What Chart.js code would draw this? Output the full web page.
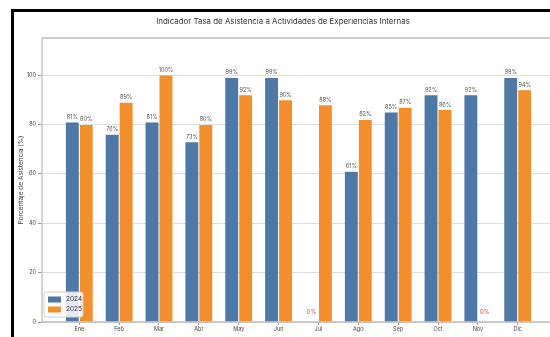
<!DOCTYPE html>
<html>
<head>
<meta charset="utf-8">
<script src="https://cdn.jsdelivr.net/npm/chart.js@4.4.1/dist/chart.umd.min.js"></script>
<style>
  html, body { margin: 0; padding: 0; background: #fff; overflow: hidden; width: 550px; height: 337px; }
  #wrap { position: absolute; left: 0; top: 0; width: 550px; height: 337px; overflow: hidden; }
  #grafico { position: absolute; left: 0; top: 0; }
  #marco { position: absolute; left: 11px; top: 9px; width: 536px; height: 325px;
           border-left: 3px solid #000; border-top: 3px solid #000; pointer-events: none; }
</style>
</head>
<body>
<div id="wrap"><canvas id="grafico" width="570" height="337"></canvas></div>
<div id="marco"></div>
<script>
const meses = ['Ene', 'Feb', 'Mar', 'Abr', 'May', 'Jun', 'Jul', 'Ago', 'Sep', 'Oct', 'Nov', 'Dic'];
const valores2024 = [81, 76, 81, 73, 99, 99, 0, 61, 85, 92, 92, 99];
const valores2025 = [80, 89, 100, 80, 92, 90, 88, 82, 87, 86, 0, 94];
const ticksY = [0, 20, 40, 60, 80, 100];

const FUENTE = 'Inter, "DejaVu Sans", sans-serif';
const AZUL = '#4E79A7';
const NARANJA = '#F28E2B';

// marco gris del área de trazado (izquierda, arriba, abajo)
const marcoPlot = {
  id: 'marcoPlot',
  beforeDatasetsDraw(chart) {
    const { ctx, chartArea: a } = chart;
    ctx.save();
    ctx.strokeStyle = '#bdbdbd';
    ctx.lineWidth = 1.3;
    ctx.beginPath();
    ctx.moveTo(a.right + 5, a.top);
    ctx.lineTo(a.left, a.top);
    ctx.lineTo(a.left, a.bottom);
    ctx.lineTo(a.right + 5, a.bottom);
    ctx.stroke();
    ctx.restore();
  }
};

// porcentajes encima de cada barra
const etiquetas = {
  id: 'etiquetas',
  afterDatasetsDraw(chart) {
    const { ctx } = chart;
    ctx.save();
    ctx.textAlign = 'center';
    chart.data.datasets.forEach((ds, i) => {
      const meta = chart.getDatasetMeta(i);
      meta.data.forEach((bar, j) => {
        const v = ds.data[j].y;
        if (v === 0) {
          ctx.fillStyle = '#e5484d';
          ctx.font = '6px ' + FUENTE;
          ctx.textBaseline = 'middle';
          ctx.fillText(v + '%', bar.x, bar.base - 10);
        } else {
          ctx.fillStyle = '#555';
          ctx.font = '5.5px ' + FUENTE;
          ctx.textBaseline = 'bottom';
          ctx.fillText(v + '%', bar.x, bar.y - 2);
        }
      });
    });
    ctx.restore();
  }
};

// leyenda abajo a la izquierda, dentro del gráfico
const leyenda = {
  id: 'leyenda',
  afterDraw(chart) {
    const { ctx, chartArea: a } = chart;
    const x = a.left + 2, y = a.bottom - 30, w = 39, h = 25;
    ctx.save();
    ctx.fillStyle = 'rgba(255,255,255,0.85)';
    ctx.strokeStyle = '#d0d0d0';
    ctx.lineWidth = 1;
    ctx.beginPath();
    ctx.roundRect(x, y, w, h, 2);
    ctx.fill();
    ctx.stroke();
    ctx.font = '6.5px ' + FUENTE;
    ctx.textBaseline = 'middle';
    ctx.textAlign = 'left';
    chart.data.datasets.forEach((ds, i) => {
      const yy = y + 7.5 + i * 10;
      ctx.fillStyle = ds.backgroundColor;
      ctx.fillRect(x + 4, yy - 3, 13, 6);
      ctx.fillStyle = '#333';
      ctx.fillText(ds.label, x + 22, yy);
    });
    ctx.restore();
  }
};

new Chart(document.getElementById('grafico'), {
  type: 'bar',
  data: {
    datasets: [
      {
        label: '2024',
        data: valores2024.map((v, i) => ({ x: i, y: v })),
        backgroundColor: AZUL,
        borderColor: 'rgba(255,255,255,0.3)',
        borderWidth: 0.5
      },
      {
        label: '2025',
        data: valores2025.map((v, i) => ({ x: i, y: v })),
        backgroundColor: NARANJA,
        borderColor: 'rgba(255,255,255,0.3)',
        borderWidth: 0.5
      }
    ]
  },
  options: {
    responsive: false,
    animation: false,
    categoryPercentage: 0.7,
    barPercentage: 1.0,
    layout: { padding: { left: 11, right: 15, top: 0, bottom: 0 } },
    plugins: {
      legend: { display: false },
      tooltip: { enabled: false },
      title: {
        display: true,
        text: 'Indicador Tasa de Asistencia a Actividades de Experiencias Internas',
        color: '#333',
        font: { family: FUENTE, size: 7.9, weight: 'normal', lineHeight: 1.2 },
        padding: { top: 17.3, bottom: 11.2 }
      }
    },
    scales: {
      x: {
        type: 'linear',
        offset: false,
        min: -0.935,
        max: 11.935,
        afterBuildTicks: s => { s.ticks = meses.map((m, i) => ({ value: i })); },
        afterFit: s => { s.height = 15; },
        grid: { offset: false, drawOnChartArea: false, drawTicks: true, tickLength: 3, tickColor: '#999' },
        border: { display: false },
        ticks: {
          callback: v => meses[v],
          color: '#444',
          padding: 1,
          maxRotation: 0,
          autoSkip: false,
          font: { family: FUENTE, size: 5.5 }
        }
      },
      y: {
        min: 0,
        max: 115,
        afterBuildTicks: s => { s.ticks = ticksY.map(v => ({ value: v })); },
        afterFit: s => { s.width = 31; },
        grid: { color: '#dedede', borderDash: [2, 2], tickLength: 4, tickColor: '#999', tickBorderDash: [] },
        border: { display: false },
        ticks: { color: '#444', padding: 2, font: { family: FUENTE, size: 5.5 } },
        title: {
          display: true,
          text: 'Porcentaje de Asistencia (%)',
          color: '#444',
          font: { family: FUENTE, size: 6.5 },
          padding: { top: 6, bottom: 0 }
        }
      }
    }
  },
  plugins: [marcoPlot, etiquetas, leyenda]
});
</script>
</body>
</html>
